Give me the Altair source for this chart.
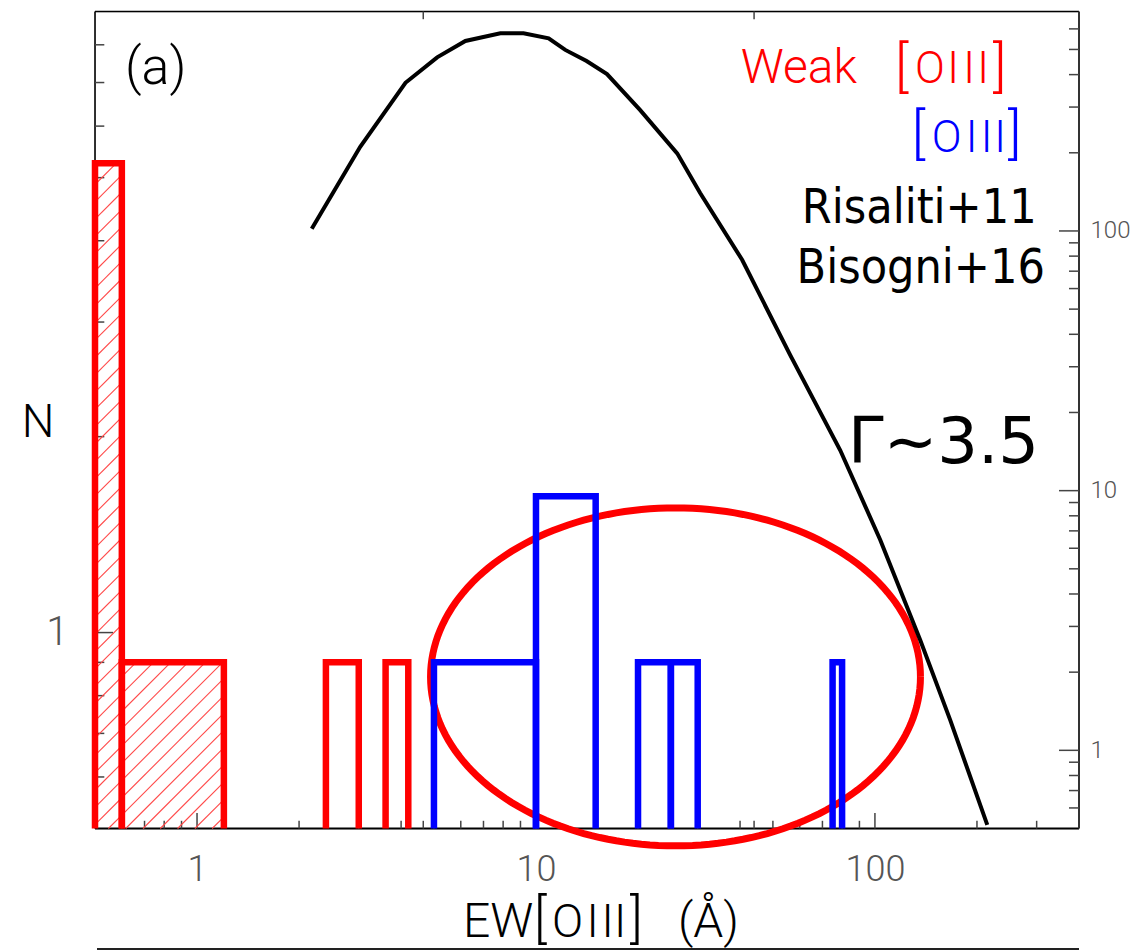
import numpy as np
import pandas as pd
import altair as alt

# plot-area size in pixels and the scale domains
W, H = 984, 817
X_MIN, X_MAX = 0.5, 400
YL_MIN, YL_MAX = 0.5, 9
YR_MIN, YR_MAX = 0.5, 700

# Weak [OIII] histogram: bin edges and heights
red_lo = [0.5, 0.6, 2.4, 3.6]
red_hi = [0.6, 1.2, 3.0, 4.2]
red_n = [5.26, 0.9, 0.9, 0.9]
red_hatched = [True, True, False, False]

# [OIII] histogram
blue_lo = [5, 10, 20, 25, 75]
blue_hi = [10, 15, 25, 30, 80]
blue_n = [0.9, 1.62, 0.9, 0.9, 0.9]

# Risaliti+11 / Bisogni+16 distribution (right-hand axis)
curve_ew = [2.18, 3.03, 4.12, 5.11, 6.19, 7.85, 9.19, 10.9, 12.2, 14.1, 16.2,
            20.3, 26.1, 30.5, 40.6, 56.2, 79.0, 103.7, 136.0, 166.7, 214.5]
curve_n = [102, 211, 372, 466, 539, 577, 577, 552, 498, 451, 402,
           292, 199, 140, 77.3, 33.3, 14.3, 6.46, 2.66, 1.31, 0.516]

# highlighted region: centre (EW, N) and half-widths in decades
ell_center = (25.8, 0.855)
ell_half_dex = (0.7227, 0.2596)

# tick positions
x_minor = [0.6, 0.7, 0.8, 0.9, 2, 3, 4, 5, 6, 7, 8, 9,
           20, 30, 40, 50, 60, 70, 80, 90, 200, 300]
x_major = [1, 10, 100]
x_extra = [4.65, 44.0]
yl_minor = [0.6, 0.7, 0.8, 0.9, 2, 3, 4, 5, 6, 7, 8]
yl_major = [1]
yr_minor = [0.6, 0.7, 0.8, 0.9, 2, 3, 4, 5, 6, 7, 8, 9,
            20, 30, 40, 50, 60, 70, 80, 90, 200, 300, 400, 500, 600]
yr_major = [1, 10, 100]

RED, BLUE = "#ff0000", "#0000ff"
THIN = "Roboto"
SANS = "DejaVu Sans"
SANS_NARROW = "DejaVu Sans Condensed, DejaVu Sans"

xs = alt.Scale(type="log", domain=[X_MIN, X_MAX])
yls = alt.Scale(type="log", domain=[YL_MIN, YL_MAX])
yrs = alt.Scale(type="log", domain=[YR_MIN, YR_MAX])

DEC_X = np.log10(X_MAX / X_MIN)
DEC_YL = np.log10(YL_MAX / YL_MIN)


def to_px(v):
    return np.log10(v / X_MIN) / DEC_X * W


def to_py(v):
    return H - np.log10(v / YL_MIN) / DEC_YL * H


def from_px(p):
    return X_MIN * 10 ** (p / W * DEC_X)


def from_py(p):
    return YL_MIN * 10 ** ((H - p) / H * DEC_YL)


def bars_frame(lo, hi, n, name):
    rows = []
    for i, (a, b, h) in enumerate(zip(lo, hi, n)):
        pts = [(a, YL_MIN), (a, h), (b, h), (b, YL_MIN)]
        for j, (x, y) in enumerate(pts):
            rows.append({"bar": f"{name}{i}", "k": j, "x": x, "y": y})
    return pd.DataFrame(rows)


def hatch_frame(lo, hi, n, flags, step=17.3):
    rows = []
    for a, b, h, f in zip(lo, hi, n, flags):
        if not f:
            continue
        pa, pb, pt = to_px(a), to_px(b), to_py(h)
        for c in np.arange(0, W + H, step):
            x0 = max(pa, c - H)
            x1 = min(pb, c - pt)
            if x1 - x0 > 0.5:
                rows.append({"x": from_px(x0), "y": from_py(c - x0),
                             "x2": from_px(x1), "y2": from_py(c - x1)})
    return pd.DataFrame(rows)


def no_axis_x(field):
    return alt.X(field, type="quantitative", scale=xs, axis=None)


red_df = bars_frame(red_lo, red_hi, red_n, "r")
blue_df = bars_frame(blue_lo, blue_hi, blue_n, "b")
hatch_df = hatch_frame(red_lo, red_hi, red_n, red_hatched)

t = np.linspace(0, 2 * np.pi, 181)
ell_df = pd.DataFrame({
    "k": np.arange(t.size),
    "x": ell_center[0] * 10 ** (ell_half_dex[0] * np.cos(t)),
    "y": ell_center[1] * 10 ** (ell_half_dex[1] * np.sin(t)),
})
curve_df = pd.DataFrame({"x": curve_ew, "y": curve_n})

# hatching inside the weak-[OIII] bins
hatch = alt.Chart(hatch_df).mark_rule(color="#ff4a4a", strokeWidth=1.1, clip=False).encode(
    x=no_axis_x("x"), x2="x2",
    y=alt.Y("y:Q", scale=yls, axis=None), y2="y2")

# red histogram, carries the x axis labels and the left axis label
red = alt.Chart(red_df).mark_line(color=RED, strokeWidth=6.5, strokeJoin="miter",
                                  strokeCap="butt", clip=False).encode(
    x=alt.X("x:Q", scale=xs, axis=alt.Axis(
        values=x_major, format="d", ticks=False, tickSize=0, domain=False, grid=False,
        labelFont=THIN, labelFontWeight=300, labelFontSize=36, labelColor="#555555",
        labelPadding=24, labelFlush=False, labelOverlap=False, title=None)),
    y=alt.Y("y:Q", scale=yls, axis=alt.Axis(
        values=yl_major, format="d", ticks=False, tickSize=0, domain=False, grid=False,
        labelFont=THIN, labelFontWeight=300, labelFontSize=40, labelColor="#555555",
        labelPadding=27, title=None)),
    detail="bar:N", order="k:Q")

ellipse = alt.Chart(ell_df).mark_line(color=RED, strokeWidth=7, clip=False).encode(
    x=no_axis_x("x"), y=alt.Y("y:Q", scale=yls, axis=None), order="k:Q")

blue = alt.Chart(blue_df).mark_line(color=BLUE, strokeWidth=6.5, strokeJoin="miter",
                                    strokeCap="butt", clip=False).encode(
    x=no_axis_x("x"), y=alt.Y("y:Q", scale=yls, axis=None),
    detail="bar:N", order="k:Q")

curve = alt.Chart(curve_df).mark_line(color="black", strokeWidth=4, clip=False).encode(
    x=no_axis_x("x"),
    y=alt.Y("y:Q", scale=yrs, axis=alt.Axis(
        orient="right", values=yr_major, format="d", ticks=False, tickSize=0,
        domain=False, grid=False, labelFont=THIN, labelFontWeight=300,
        labelFontSize=24, labelColor="#555555", labelPadding=11, title=None)))

TICK = "#444444"


def xticks(vals, length, top=False):
    df = pd.DataFrame({"v": vals})
    if top:
        yy, yy2 = alt.value(0), alt.value(length)
    else:
        yy, yy2 = alt.value(H), alt.value(H - length)
    return alt.Chart(df).mark_rule(color=TICK, strokeWidth=1.5).encode(
        x=no_axis_x("v"), y=yy, y2=yy2)


def yticks(vals, length, scale, right=False):
    df = pd.DataFrame({"v": vals})
    if right:
        xx, xx2 = alt.value(W), alt.value(W - length)
    else:
        xx, xx2 = alt.value(0), alt.value(length)
    return alt.Chart(df).mark_rule(color=TICK, strokeWidth=1.5).encode(
        y=alt.Y("v:Q", scale=scale, axis=None), x=xx, x2=xx2)


frame_df = pd.DataFrame({"x": [0.0], "y": [0.0]})
frame = [
    alt.Chart(frame_df).mark_rule(color="black", strokeWidth=2).encode(
        x=alt.value(0), x2=alt.value(W), y=alt.value(H)),
    alt.Chart(frame_df).mark_rule(color="black", strokeWidth=1.6).encode(
        x=alt.value(0), x2=alt.value(W), y=alt.value(0)),
    alt.Chart(frame_df).mark_rule(color="black", strokeWidth=1.6).encode(
        x=alt.value(0), y=alt.value(0), y2=alt.value(H)),
    alt.Chart(frame_df).mark_rule(color="#333333", strokeWidth=2).encode(
        x=alt.value(W), y=alt.value(0), y2=alt.value(H)),
    # top edge of the panel below
    alt.Chart(frame_df).mark_rule(color="#222222", strokeWidth=2, clip=False).encode(
        x=alt.value(2), x2=alt.value(W), y=alt.value(937.5)),
]

ticks = [
    xticks(x_minor, 7.7), xticks(x_extra, 7.7), xticks(x_major, 15.5),
    xticks(x_extra, 7.7, top=True),
    yticks(yl_minor, 9.3, yls), yticks(yl_major, 18, yls),
    yticks(yr_minor, 10, yrs, right=True), yticks(yr_major, 20, yrs, right=True),
]

# annotation text (pixel positions inside the plot area)
thin_left = pd.DataFrame([
    {"t": "(a)", "px": 30, "py": 72.5, "s": 52, "c": "black"},
    {"t": "Weak", "px": 645.7, "py": 71.8, "s": 48, "c": RED},
    {"t": "[", "px": 800, "py": 74.5, "s": 56, "c": RED},
    {"t": "O", "px": 820, "py": 71.8, "s": 44, "c": RED},
    {"t": "]", "px": 898, "py": 74.5, "s": 56, "c": RED},
    {"t": "[", "px": 816.7, "py": 141.5, "s": 56, "c": BLUE},
    {"t": "O", "px": 836.7, "py": 140.2, "s": 44, "c": BLUE},
    {"t": "]", "px": 913, "py": 141.5, "s": 56, "c": BLUE},
    {"t": "N", "px": -73.3, "py": 425.2, "s": 46, "c": "black"},
    {"t": "EW", "px": 368, "py": 925.2, "s": 48, "c": "black"},
    {"t": "[", "px": 439, "py": 925.5, "s": 53, "c": "black"},
    {"t": "O", "px": 457, "py": 925.2, "s": 46, "c": "black"},
    {"t": "]", "px": 535, "py": 925.5, "s": 53, "c": "black"},
    {"t": "(Å)", "px": 583, "py": 925.2, "s": 48, "c": "black"},
])
# the three I strokes of each [OIII], spaced apart
thin_center = pd.DataFrame([
    {"t": "I", "px": 858, "py": 71.8, "s": 44, "c": RED},
    {"t": "I", "px": 874, "py": 71.8, "s": 44, "c": RED},
    {"t": "I", "px": 888, "py": 71.8, "s": 44, "c": RED},
    {"t": "I", "px": 876.7, "py": 140.2, "s": 44, "c": BLUE},
    {"t": "I", "px": 891.7, "py": 140.2, "s": 44, "c": BLUE},
    {"t": "I", "px": 905, "py": 140.2, "s": 44, "c": BLUE},
    {"t": "I", "px": 497.7, "py": 925.2, "s": 46, "c": "black"},
    {"t": "I", "px": 512.7, "py": 925.2, "s": 46, "c": "black"},
    {"t": "I", "px": 525, "py": 925.2, "s": 46, "c": "black"},
])
ref_txt = pd.DataFrame([
    {"t": "Risaliti+11", "px": 941.7, "py": 211.8, "s": 48, "c": "black"},
    {"t": "Bisogni+16", "px": 950, "py": 271.8, "s": 48, "c": "black"},
])
gamma_txt = pd.DataFrame([
    {"t": "Γ~3.5", "px": 753, "py": 451.5, "s": 64, "c": "black"},
])


def text_layer(df, font, weight, align):
    return alt.Chart(df).mark_text(font=font, fontWeight=weight, align=align,
                                   baseline="alphabetic").encode(
        text="t:N",
        x=alt.X("px:Q", scale=None, axis=None),
        y=alt.Y("py:Q", scale=None, axis=None),
        size=alt.Size("s:Q", scale=None, legend=None),
        color=alt.Color("c:N", scale=None, legend=None))


texts = [
    text_layer(thin_left, THIN, 300, "left"),
    text_layer(thin_center, THIN, 300, "center"),
    text_layer(ref_txt, SANS_NARROW, "normal", "right"),
    text_layer(gamma_txt, SANS, "normal", "left"),
]

chart = alt.layer(
    *frame, *ticks, hatch, red, ellipse, blue, curve, *texts
).resolve_scale(
    x="independent", y="independent"
).properties(
    width=W, height=H,
    autosize=alt.AutoSizeParams(type="none"),
    padding={"left": 95, "top": 11.5, "right": 59, "bottom": 122.5},
).configure_view(stroke=None).configure(background="white")

chart.save("out.html", embed_options={"renderer": "svg", "actions": False})
